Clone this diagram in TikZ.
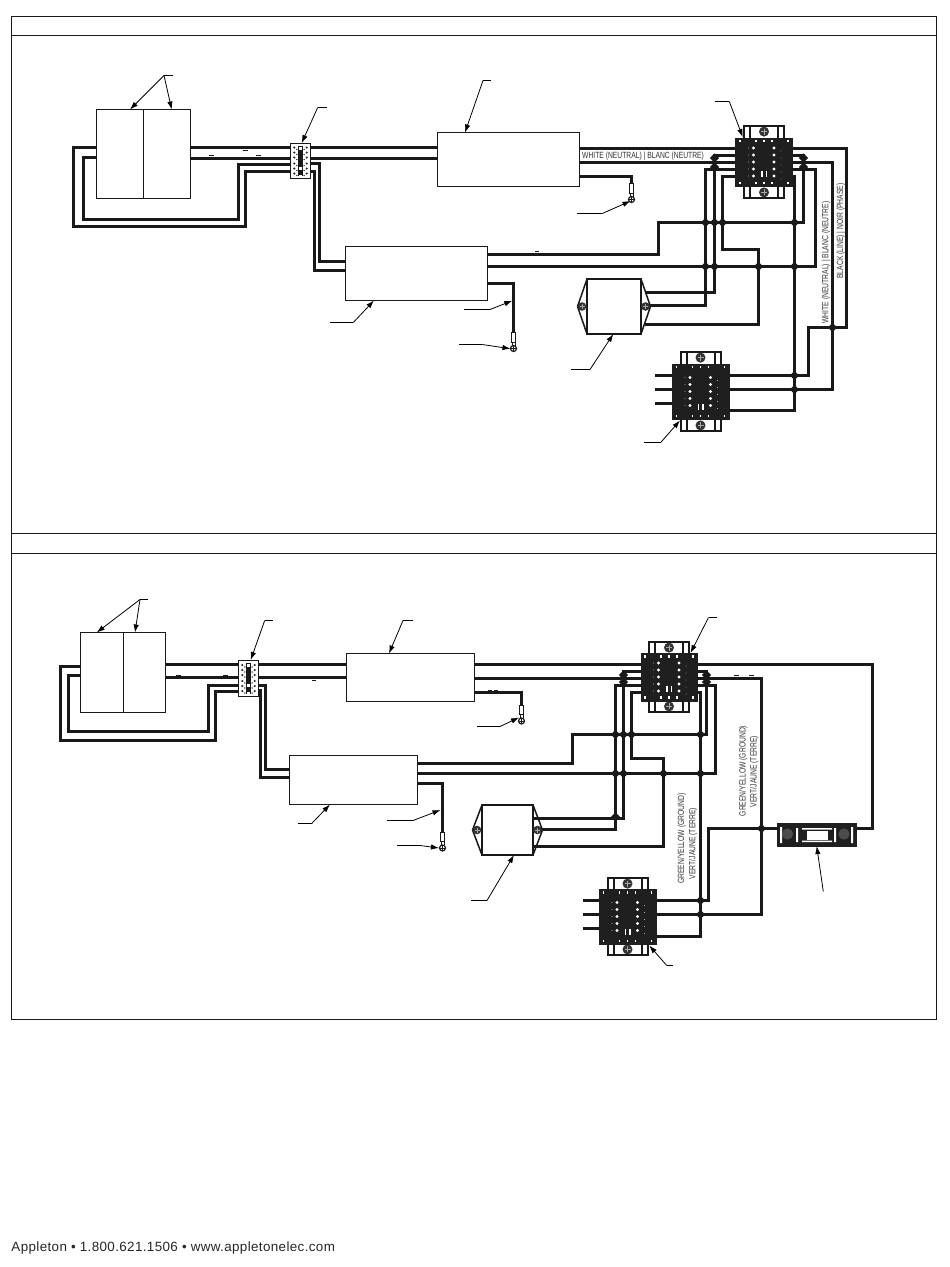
\documentclass[tikz,border=0pt]{standalone}
\usepackage{fontspec}
\setmainfont{Liberation Sans}
\newfontfamily\narrowf[FakeStretch=0.75]{Liberation Sans}
\newfontfamily\footf[LetterSpace=2.8]{Liberation Sans}
\usetikzlibrary{arrows.meta}
\tikzset{
  frame/.style={draw=black!90,line width=1pt},
  unitbox/.style={draw=black!90,line width=1pt,fill=white,inner sep=0pt,outer sep=0pt},
  wire/.style={draw=black!90,line width=3pt,line join=miter,line cap=butt},
  leader/.style={draw=black,line width=0.8pt,-{Latex[length=8pt,width=5.4pt]}},
  legline/.style={draw=black,line width=0.8pt},
  tick/.style={draw=black!90,line width=1pt},
  lugbody/.style={draw=black!90,line width=1pt,fill=white},
  darkblock/.style={fill=black!88,draw=black!88,inner sep=0pt,outer sep=0pt},
  bracket/.style={draw=black!90,line width=2pt,fill=white},
  vlabel/.style={rotate=90,font=\narrowf\fontsize{9}{11}\selectfont,text=black!80,inner sep=0pt,align=center},
  hlabel/.style={font=\narrowf\fontsize{9}{11}\selectfont,text=black!80,inner sep=0pt,anchor=west},
  jdot/.style={fill=black!90,draw=none}
}
% terminal block: name, centre x, centre y, half width, half height, bracket half width, bracket half height
\newcommand{\termblock}[7]{%
  \draw[bracket] (#2-#6,#3-#7) rectangle (#2+#6,#3+#7);
  \draw[line width=2pt,black!90] (#2-#6+6,#3-#7)--(#2-#6+6,#3+#7) (#2+#6-6,#3-#7)--(#2+#6-6,#3+#7);
  \fill[black!80] (#2,#3-#7+5.6) circle (5);
  \fill[black!80] (#2,#3+#7-5.6) circle (5);
  \draw[black!35,line width=.4pt] (#2-3,#3-#7+5.6)--(#2+3,#3-#7+5.6) (#2,#3-#7+2.6)--(#2,#3-#7+8.6)
     (#2-3,#3+#7-5.6)--(#2+3,#3+#7-5.6) (#2,#3+#7-8.6)--(#2,#3+#7-2.6);
  \node[darkblock,minimum width=2*#4 pt,minimum height=2*#5 pt] (#1) at (#2,#3) {};
  \foreach \k in {-2,-1,0,1,2}{
    \fill[white] (#2-10.5,#3+\k*7) circle (1.6);
    \fill[white] (#2+10,#3+\k*7) circle (1.6);
    \fill[white] (#2-15.5,#3+\k*7) circle (.45);
    \fill[white] (#2+17,#3+\k*7+3) circle (.45);
  }
  \foreach \k in {-3,-1,0,1,3}{
    \fill[white] (#2+\k*8-.6,#3-#5+2) rectangle ++(1.2,2.4);
    \fill[white] (#2+\k*8-.6,#3+#5-4.4) rectangle ++(1.2,2.4);
  }
  \fill[white] (#2-3,#3+#5-15) rectangle ++(1.5,6);
  \fill[white] (#2+1.5,#3+#5-15) rectangle ++(1.5,6);
}
% small four-way splice: name, x, y, w, h
\newcommand{\splice}[5]{%
  \node[unitbox,minimum width=#4 pt,minimum height=#5 pt] (#1) at (#2,#3) {};
  \fill[black!90] (#2-2.4,#3-#5/2+3) rectangle (#2+2.4,#3+#5/2-2);
  \foreach \k in {-1,1}{\fill[white] (#2-1.4,#3+\k*10-4) rectangle ++(2.8,3.4);
    \fill[white] (#2-1.4,#3+\k*14) rectangle ++(2.8,3);
    \foreach \j in {-13,-8,-3,3,8,13}{
      \fill[black!85] (#2+\k*6.2,#3+\j) circle (1.2);
      \fill[black!85] (#2+\k*3.6,#3+\j+2) circle (.8);
    }}
}
% lug at the end of a ground wire: x, top y
\newcommand{\luga}[2]{%
  \draw[lugbody] (#1-2,#2) rectangle (#1+2,#2+9.5);
  \draw[black!90,line width=1pt] (#1-1.5,#2+9.5)--(#1-1.5,#2+13) (#1+1.5,#2+9.5)--(#1+1.5,#2+13);
  \draw[black!90,line width=1.2pt,fill=white] (#1,#2+16) circle (3);
  \draw[black!90,line width=.7pt] (#1-3,#2+16)--(#1+3,#2+16) (#1,#2+13)--(#1,#2+19);
}
% filter: name, x1, y1, x2, y2
\newcommand{\filterunit}[5]{%
  \node[unitbox,line width=2pt,minimum width=#4-#2 pt,minimum height=#5-#3 pt] (#1) at ({(#2+#4)/2},{(#3+#5)/2}) {};
  \draw[black!90,line width=1.5pt,line join=round] (#2,#3)--(#2-9.5,{(#3+#5)/2})--(#2,#5) (#4,#3)--(#4+9.5,{(#3+#5)/2})--(#4,#5);
  \fill[black!80] (#2-5,{(#3+#5)/2}) circle (4.3);
  \fill[black!80] (#4+4.5,{(#3+#5)/2}) circle (4.3);
  \draw[black!35,line width=.4pt] (#2-7.5,{(#3+#5)/2})--(#2-2.5,{(#3+#5)/2}) (#2-5,{(#3+#5)/2-2.5})--(#2-5,{(#3+#5)/2+2.5})
    (#4+2,{(#3+#5)/2})--(#4+7,{(#3+#5)/2}) (#4+4.5,{(#3+#5)/2-2.5})--(#4+4.5,{(#3+#5)/2+2.5});
}
\newcommand{\jn}[2]{\fill[jdot] (#1-4.6,#2)--(#1,#2-4.6)--(#1+4.6,#2)--(#1,#2+4.6)--cycle;}
\begin{document}
\begin{tikzpicture}[x=1pt,y=-1pt]
\useasboundingbox (0,0) rectangle (950,1267);
\fill[white] (0,0) rectangle (950,1267);
% frames
\node[unitbox,minimum width=925pt,minimum height=1003pt] (page) at (474,518) {};
\draw[frame] (page.west |- 0,35.5) -- (page.east |- 0,35.5);
\draw[frame] (page.west |- 0,533.5) -- (page.east |- 0,533.5);
\draw[frame] (page.west |- 0,553.5) -- (page.east |- 0,553.5);

%%%%%%%%%%%%%% UPPER DIAGRAM %%%%%%%%%%%%%%
\node[unitbox,minimum width=94pt,minimum height=89pt] (A) at (143.5,154) {};
\draw[line width=1pt,black!90] (A.north) -- (A.south);
\node[unitbox,minimum width=142pt,minimum height=54pt] (C) at (508.5,159.5) {};
\node[unitbox,minimum width=142pt,minimum height=54pt] (D) at (416.5,273.5) {};
% wires
\draw[wire] (A.west |- 0,147.5) -- (73.5,147.5) -- (73.5,226.5) -- (245.5,226.5) -- (245.5,171.5) -- (296,171.5);
\draw[wire] (A.west |- 0,157.5) -- (83.5,157.5) -- (83.5,219.5) -- (238.5,219.5) -- (238.5,164.5) -- (296,164.5);
\draw[wire] (A.east |- 0,147.5) -- (C.west |- 0,147.5);
\draw[wire] (A.east |- 0,158.5) -- (C.west |- 0,158.5);
\draw[wire] (305,163.5) -| (319.5,261.5) -- (D.west |- 0,261.5);
\draw[wire] (305,171.5) -| (314.5,270.5) -- (D.west |- 0,270.5);
\draw[wire] (C.east |- 0,148.5) -- (740,148.5);
\draw[wire] (C.east |- 0,162.5) -- (740,162.5);
\draw[wire] (C.east |- 0,176.5) -- (631.5,176.5) -- (631.5,184);
\draw[wire] (D.east |- 0,283.5) -- (513.5,283.5) -- (513.5,333);
\draw[wire] (D.east |- 0,254.5) -- (658.5,254.5) -- (658.5,222.5) -- (803.5,222.5) -- (803.5,155.5) -- (788,155.5);
\draw[wire] (D.east |- 0,266.5) -- (815.5,266.5) -- (815.5,169.5) -- (788,169.5);
\draw[wire] (788,148.5) -- (846.5,148.5) -- (846.5,327.5) -- (808.5,327.5) -- (808.5,375.5) -- (725,375.5);
\draw[wire] (788,162.5) -- (832.5,162.5) -- (832.5,389.5) -- (725,389.5);
\draw[wire] (788,176.5) -- (794.5,176.5) -- (794.5,410.5) -- (725,410.5);
\draw[wire] (740,155.5) -- (714.5,155.5) -- (714.5,292.5) -- (645,292.5);
\draw[wire] (740,169.5) -- (705.5,169.5) -- (705.5,305.5) -- (645,305.5);
\draw[wire] (740,176.5) -- (722.5,176.5) -- (722.5,249.5) -- (758.5,249.5) -- (758.5,324.5) -- (645,324.5);
\draw[wire] (655,375.5) -- (675,375.5);
\draw[wire] (655,389.5) -- (675,389.5);
\draw[wire] (655,403.5) -- (675,403.5);
\foreach \p/\q in {705.5/222.5,714.5/222.5,722.5/222.5,794.5/222.5,705.5/266.5,714.5/266.5,758.5/266.5,794.5/266.5,714.5/158,714.5/167,803.5/158,803.5/167,832.5/327.5,794.5/375.5,794.5/389.5}{\jn{\p}{\q}}
% components
\splice{SA}{300.5}{160.5}{20}{35}
\termblock{TA}{764}{162}{28.5}{24.2}{20}{36}
\filterunit{FA}{587}{279}{641}{334}
\termblock{TB}{700.5}{391.5}{28.3}{27.5}{20}{39.5}
\luga{631.5}{183.5}
\luga{513.5}{332.5}
% labels
\node[hlabel] (wn1) at (582,156.5) {WHITE (NEUTRAL) | BLANC (NEUTRE)};
\node[vlabel] (wn2) at (826,262.5) {WHITE (NEUTRAL) | BLANC (NEUTRE)};
\node[vlabel] (bl1) at (840.7,231) {BLACK (LINE) | NOIR (PHASE)};
% ticks on wires
\draw[tick] (208.5,155.5)--(214,155.5) (243,150.5)--(248,150.5) (256,155.5)--(261,155.5) (535,251.5)--(539,251.5);
% leaders
\coordinate (l1a) at (172.7,75.5); \coordinate (l1b) at (164,75.5);
\draw[legline] (l1a) -- (l1b);
\draw[leader] (l1b) -- (A.north -| 130,0);
\draw[leader] (l1b) -- (A.north -| 171.7,0);
\coordinate (l2a) at (326.7,107.5); \coordinate (l2b) at (317.7,107.5);
\draw[legline] (l2a) -- (l2b);
\draw[leader] (l2b) -- (SA.north -| 301.7,0);
\coordinate (l3a) at (491,80.5); \coordinate (l3b) at (483,80.5);
\draw[legline] (l3a) -- (l3b);
\draw[leader] (l3b) -- (C.north -| 465,0);
\coordinate (l4a) at (715,101.5); \coordinate (l4b) at (729.3,101.5); \coordinate (l4c) at (742.7,137);
\draw[legline] (l4a) -- (l4b);
\draw[leader] (l4b) -- (l4c);
\coordinate (l5a) at (577.3,213.5); \coordinate (l5b) at (602.3,213.5); \coordinate (l5c) at (630.5,201);
\draw[legline] (l5a) -- (l5b);
\draw[leader] (l5b) -- (l5c);
\coordinate (l6a) at (330,322.5); \coordinate (l6b) at (353.3,322.5);
\draw[legline] (l6a) -- (l6b);
\draw[leader] (l6b) -- (D.south -| 374,0);
\coordinate (l7a) at (464,309.5); \coordinate (l7b) at (490,309.5); \coordinate (l7c) at (512.3,300.7);
\draw[legline] (l7a) -- (l7b);
\draw[leader] (l7b) -- (l7c);
\coordinate (l8a) at (459,344.5); \coordinate (l8b) at (482.3,344.5); \coordinate (l8c) at (510.5,348.7);
\draw[legline] (l8a) -- (l8b);
\draw[leader] (l8b) -- (l8c);
\coordinate (l9a) at (571,369.5); \coordinate (l9b) at (590,369.5);
\draw[legline] (l9a) -- (l9b);
\draw[leader] (l9b) -- (FA.south -| 613.3,0);
\coordinate (l10a) at (644,442.5); \coordinate (l10b) at (660.7,442.5); \coordinate (l10c) at (680,420.5);
\draw[legline] (l10a) -- (l10b);
\draw[leader] (l10b) -- (l10c);

%%%%%%%%%%%%%% LOWER DIAGRAM %%%%%%%%%%%%%%
\node[unitbox,minimum width=85pt,minimum height=80pt] (E) at (123,672.5) {};
\draw[line width=1pt,black!90] (E.north -| 123.5,0) -- (E.south -| 123.5,0);
\node[unitbox,minimum width=128pt,minimum height=48pt] (G) at (410.5,677.5) {};
\node[unitbox,minimum width=128pt,minimum height=49pt] (H) at (353.5,780) {};
\draw[wire] (E.west |- 0,666.5) -- (60.5,666.5) -- (60.5,740.5) -- (215.5,740.5) -- (215.5,691.5) -- (244,691.5);
\draw[wire] (E.west |- 0,675.5) -- (68.5,675.5) -- (68.5,731.5) -- (208.5,731.5) -- (208.5,685.5) -- (244,685.5);
\draw[wire] (E.east |- 0,664.5) -- (G.west |- 0,664.5);
\draw[wire] (E.east |- 0,677.5) -- (G.west |- 0,677.5);
\draw[wire] (252,685.5) -| (265.5,769.5) -- (H.west |- 0,769.5);
\draw[wire] (252,690.5) -| (260.5,777.5) -- (H.west |- 0,777.5);
\draw[wire] (G.east |- 0,664.5) -- (645,664.5);
\draw[wire] (G.east |- 0,678.5) -- (645,678.5);
\draw[wire] (G.east |- 0,692.5) -- (521.5,692.5) -- (521.5,705);
\draw[wire] (H.east |- 0,763.5) -- (572.5,763.5) -- (572.5,734.5) -- (706.5,734.5) -- (706.5,671.5) -- (692,671.5);
\draw[wire] (H.east |- 0,773.5) -- (715.5,773.5) -- (715.5,685.5) -- (692,685.5);
\draw[wire] (H.east |- 0,783.5) -- (442.5,783.5) -- (442.5,832);
\draw[wire] (645,671.5) -- (623.5,671.5) -- (623.5,818.5) -- (530,818.5);
\draw[wire] (645,685.5) -- (615.5,685.5) -- (615.5,829.5) -- (530,829.5);
\draw[wire] (645,692.5) -- (631.5,692.5) -- (631.5,758.5) -- (663.5,758.5) -- (663.5,846.5) -- (530,846.5);
\draw[wire] (692,664.5) -- (872.5,664.5) -- (872.5,828.5) -- (850,828.5);
\draw[wire] (692,678.5) -- (761.5,678.5) -- (761.5,914.5) -- (650,914.5);
\draw[wire] (780,828.5) -- (708.5,828.5) -- (708.5,900.5) -- (650,900.5);
\draw[wire] (692,692.5) -- (700.5,692.5) -- (700.5,936.5) -- (650,936.5);
\draw[wire] (583,900.5) -- (603,900.5);
\draw[wire] (583,914.5) -- (603,914.5);
\draw[wire] (583,928.5) -- (603,928.5);
\foreach \p/\q in {615.5/734.5,623.5/734.5,631.5/734.5,700.5/734.5,615.5/773.5,623.5/773.5,663.5/773.5,700.5/773.5,623.5/675,623.5/682,706.5/675,706.5/682,615.5/817,761.5/828.5,700.5/900.5,700.5/914.5}{\jn{\p}{\q}}
\splice{SB}{248.5}{678}{20}{36}
\termblock{TC}{669}{677}{27.8}{23.7}{20}{35}
\filterunit{FB}{482}{805}{533}{855}
\termblock{TD}{627.5}{916.5}{28.3}{27.4}{20}{38.5}
\luga{521.5}{705}
\luga{442.5}{832}
% fuse holder
\node[darkblock,minimum width=79pt,minimum height=22.7pt] (FU) at (816.2,834.7) {};
\fill[white] (780,827) rectangle (782,843) (851,827) rectangle (853,843);
\fill[white] (796,828) rectangle (798,842) (834,828) rectangle (836,842);
\fill[white] (802,828) rectangle (832,829.6) (802,840.5) rectangle (832,842);
\fill[white] (807,830.5) rectangle (828,840);
\fill[black!70] (787.5,834) circle (5.6);
\fill[black!70] (844,834) circle (5.6);
% labels
\node[vlabel] (gy1) at (681.7,838.5) {GREEN/YELLOW (GROUND)};
\node[vlabel] (vj1) at (693,843.5) {VERT/JAUNE (TERRE)};
\node[vlabel] (gy2) at (743.3,771) {GREEN/YELLOW (GROUND)};
\node[vlabel] (vj2) at (754.3,771.5) {VERT/JAUNE (TERRE)};
\draw[tick] (176,675.5)--(180.5,675.5) (223,675.5)--(227.5,675.5) (312,680.5)--(316,680.5) (488,690.5)--(492,690.5) (493.5,690.5)--(497.5,690.5) (734,675.5)--(739,675.5) (749,675.5)--(754,675.5);
% leaders
\coordinate (m1a) at (147.7,599.5); \coordinate (m1b) at (140,599.5);
\draw[legline] (m1a) -- (m1b);
\draw[leader] (m1b) -- (E.north -| 96.7,0);
\draw[leader] (m1b) -- (E.north -| 135,0);
\coordinate (m2a) at (272.7,620.5); \coordinate (m2b) at (264.7,620.5);
\draw[legline] (m2a) -- (m2b);
\draw[leader] (m2b) -- (SB.north -| 250.7,0);
\coordinate (m3a) at (413,620.5); \coordinate (m3b) at (403,620.5);
\draw[legline] (m3a) -- (m3b);
\draw[leader] (m3b) -- (G.north -| 389,0);
\coordinate (m4a) at (717,617.5); \coordinate (m4b) at (708.5,617.5);
\draw[legline] (m4a) -- (m4b);
\draw[leader] (m4b) -- (690.5,653);
\coordinate (m5a) at (477,726.5); \coordinate (m5b) at (500,726.5); \coordinate (m5c) at (519,717.5);
\draw[legline] (m5a) -- (m5b);
\draw[leader] (m5b) -- (m5c);
\coordinate (m6a) at (298.3,823.5); \coordinate (m6b) at (311.7,823.5);
\draw[legline] (m6a) -- (m6b);
\draw[leader] (m6b) -- (H.south -| 330,0);
\coordinate (m7a) at (387,820.5); \coordinate (m7b) at (413,820.5); \coordinate (m7c) at (440.5,810);
\draw[legline] (m7a) -- (m7b);
\draw[leader] (m7b) -- (m7c);
\coordinate (m8a) at (397,845.5); \coordinate (m8b) at (420,845.5); \coordinate (m8c) at (439,848);
\draw[legline] (m8a) -- (m8b);
\draw[leader] (m8b) -- (m8c);
\coordinate (m9a) at (471,900.5); \coordinate (m9b) at (487,900.5);
\draw[legline] (m9a) -- (m9b);
\draw[leader] (m9b) -- (FB.south -| 514,0);
\coordinate (m10a) at (672.7,965.5); \coordinate (m10b) at (666.7,965.5); \coordinate (m10c) at (649.3,945.5);
\draw[legline] (m10a) -- (m10b);
\draw[leader] (m10b) -- (m10c);
\coordinate (m11) at (823.3,891.5);
\draw[leader] (m11) -- (FU.south -| 816.7,0);
% footer
\node[anchor=base west,inner sep=0pt,font=\footf\fontsize{13.4}{16}\selectfont,text=black!85] (foot) at (11.3,1251.5) {Appleton • 1.800.621.1506 • www.appletonelec.com};
\end{tikzpicture}
\end{document}
